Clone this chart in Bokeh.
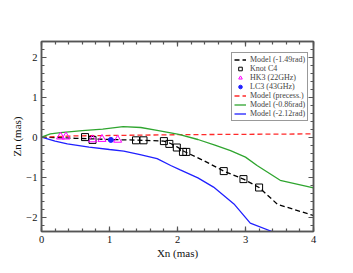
from bokeh.plotting import figure
from bokeh.models import (Range1d, LinearAxis, SingleIntervalTicker, Legend, LegendItem,
                          CustomLabelingPolicy)
from bokeh.embed import file_html
from bokeh.resources import INLINE

# --- data ---
model149_x = [0, 0.5, 1.0, 1.5, 1.8, 1.9, 2.0, 2.1, 2.4, 2.68, 2.97, 3.2, 3.47, 4.0]
model149_y = [0, -0.03, -0.06, -0.08, -0.1, -0.16, -0.25, -0.36, -0.6, -0.85, -1.05, -1.26, -1.68, -1.96]

knot_x = [0.64, 0.75, 1.39, 1.5, 1.8, 1.88, 1.99, 2.08, 2.13, 2.68, 2.97, 3.2]
knot_y = [0.0, -0.07, -0.08, -0.08, -0.1, -0.17, -0.26, -0.37, -0.37, -0.85, -1.05, -1.26]

hk3_x = [0.28, 0.36, 0.75, 0.89, 1.12]
hk3_y = [0.01, 0.01, -0.06, -0.05, -0.07]

lc3_x = [1.02]
lc3_y = [-0.07]

prec_x = [0, 0.5, 1.0, 2.0, 3.0, 4.0]
prec_y = [0, 0.03, 0.04, 0.06, 0.07, 0.08]

model086_x = [0, 0.13, 0.28, 0.6, 0.9, 1.2, 1.46, 1.7, 2.02, 2.3, 2.55, 2.78, 3.0, 3.17, 3.51, 4.0]
model086_y = [0, 0.08, 0.11, 0.16, 0.2, 0.26, 0.24, 0.17, 0.07, -0.06, -0.2, -0.34, -0.5, -0.71, -1.08, -1.27]

model212_x = [0, 0.2, 0.38, 0.7, 1.0, 1.21, 1.45, 1.7, 1.9, 2.04, 2.3, 2.53, 2.83, 3.07, 3.39, 4.0]
model212_y = [0, -0.1, -0.17, -0.25, -0.31, -0.35, -0.44, -0.54, -0.71, -0.82, -1.02, -1.25, -1.67, -2.15, -2.36, -2.75]

x_label = "Xn (mas)"
y_label = "Zn (mas)"
FONT = "Liberation Serif"
FRAME = "#555555"

p = figure(width=350, height=270, output_backend="svg", toolbar_location=None,
           x_range=Range1d(0, 4), y_range=Range1d(-2.36, 2.39),
           min_border_left=41, min_border_right=37, min_border_top=41, min_border_bottom=39,
           x_axis_label=x_label, y_axis_label=y_label)
p.xgrid.visible = False
p.ygrid.visible = False
p.outline_line_color = FRAME
p.outline_line_width = 1.5
p.background_fill_color = "white"
p.border_fill_color = "white"

p.xaxis.ticker = SingleIntervalTicker(interval=1, num_minor_ticks=5)
p.yaxis.ticker = SingleIntervalTicker(interval=1, num_minor_ticks=5)

hide_labels = CustomLabelingPolicy(code="""
try {
  const n = indices.size;
  for (let i = 0; i < n; i++) { indices.unset(i); }
} catch (e) {}
return indices;
""")


def style(ax, labels=True):
    ax.axis_line_color = FRAME
    ax.axis_line_width = 1.5
    ax.major_tick_line_color = FRAME
    ax.minor_tick_line_color = FRAME
    ax.major_tick_line_width = 1.2
    ax.minor_tick_line_width = 1.2
    ax.major_tick_in = 5
    ax.major_tick_out = 0
    ax.minor_tick_in = 3
    ax.minor_tick_out = 0
    ax.major_label_text_font = FONT
    ax.major_label_text_color = "#111111"
    ax.major_label_text_font_size = "10.5px"
    ax.axis_label_text_font = FONT
    ax.axis_label_text_font_style = "normal"
    ax.axis_label_text_color = "#111111"
    ax.axis_label_text_font_size = "11px"
    if labels:
        ax.major_label_standoff = 4
    else:
        ax.major_label_standoff = 0
        ax.major_label_policy = hide_labels


style(p.xaxis[0])
style(p.yaxis[0])
p.xaxis.axis_label_standoff = 1
p.yaxis.axis_label_standoff = 0

top = LinearAxis(ticker=SingleIntervalTicker(interval=1, num_minor_ticks=5))
right = LinearAxis(ticker=SingleIntervalTicker(interval=1, num_minor_ticks=5))
style(top, labels=False)
style(right, labels=False)
p.add_layout(top, "above")
p.add_layout(right, "right")

r1 = p.line(model149_x, model149_y, line_color="black", line_width=1.3, line_dash="5 3")
r5 = p.line(prec_x, prec_y, line_color="#ff2a2a", line_width=1.3, line_dash="5 3")
r6 = p.line(model086_x, model086_y, line_color="#2fa52f", line_width=1.3)
r7 = p.line(model212_x, model212_y, line_color="#2020ff", line_width=1.3)
r2 = p.scatter(knot_x, knot_y, marker="square", size=7, fill_color=None,
               line_color="black", line_width=1.0)
r3 = p.scatter(hk3_x, hk3_y, marker="triangle", size=8, fill_color=None,
               line_color="#ff00ff", line_width=1.0)
r4 = p.scatter(lc3_x, lc3_y, marker="circle", size=5, fill_color="#2020ff",
               line_color="#2020ff")

legend = Legend(items=[
    LegendItem(label="Model (-1.49rad)", renderers=[r1]),
    LegendItem(label="Knot C4", renderers=[r2]),
    LegendItem(label="HK3 (22GHz)", renderers=[r3]),
    LegendItem(label="LC3 (43GHz)", renderers=[r4]),
    LegendItem(label="Model (precess.)", renderers=[r5]),
    LegendItem(label="Model (-0.86rad)", renderers=[r6]),
    LegendItem(label="Model (-2.12rad)", renderers=[r7]),
])
legend.location = (190, 110)
legend.label_text_font = FONT
legend.label_text_font_size = "8px"
legend.label_height = 9
legend.glyph_height = 9
legend.glyph_width = 12
legend.label_standoff = 4
legend.spacing = 0
legend.padding = 2
legend.margin = 0
legend.border_line_color = "#333333"
legend.border_line_width = 1
legend.background_fill_alpha = 1
p.add_layout(legend)

open("out.html", "w").write(file_html(p, INLINE))
